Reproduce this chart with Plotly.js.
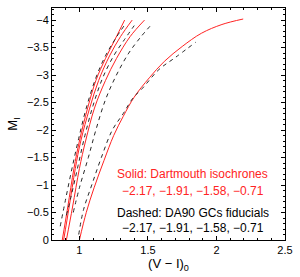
<!DOCTYPE html>
<html>
<head>
<meta charset="utf-8">
<script src="https://cdn.plot.ly/plotly-3.0.1.min.js"></script>
<style>html,body{margin:0;padding:0;background:#fff;}#chart{width:300px;height:277px;}</style>
</head>
<body>
<div id="chart"></div>
<script>
// Dartmouth isochrones (solid red), labelled by [Fe/H]
const isoLabels = ["-2.17", "-1.91", "-1.58", "-0.71"];
const iso1_x = [0.875, 0.915, 0.96, 1.0, 1.06, 1.12, 1.19, 1.26, 1.33];
const iso1_y = [0, -0.6, -1.3, -1.8, -2.4, -2.9, -3.3, -3.65, -4.0];
const iso2_x = [0.885, 0.925, 0.97, 1.01, 1.075, 1.14, 1.22, 1.30, 1.385];
const iso2_y = [0, -0.6, -1.3, -1.8, -2.4, -2.9, -3.35, -3.7, -4.0];
const iso3_x = [0.905, 0.95, 1.0, 1.045, 1.11, 1.19, 1.27, 1.37, 1.475];
const iso3_y = [0, -0.6, -1.3, -1.8, -2.4, -2.9, -3.3, -3.7, -4.0];
const iso4_x = [1.0, 1.05, 1.107, 1.18, 1.25, 1.32, 1.40, 1.51, 1.62, 1.75, 1.89, 2.04, 2.195];
const iso4_y = [0, -0.5, -0.95, -1.45, -1.9, -2.25, -2.6, -2.95, -3.25, -3.52, -3.76, -3.92, -4.02];

// DA90 GC fiducials (dashed)
const fid1_x = [0.86, 0.9, 0.95, 0.995, 1.05, 1.12, 1.19, 1.26, 1.335];
const fid1_y = [-0.25, -0.75, -1.35, -1.85, -2.4, -2.95, -3.35, -3.65, -3.93];
const fid2_x = [0.905, 0.94, 0.99, 1.04, 1.10, 1.17, 1.25, 1.33, 1.40];
const fid2_y = [-0.45, -0.8, -1.35, -1.9, -2.45, -2.95, -3.35, -3.65, -3.9];
const fid3_x = [0.955, 1.0, 1.065, 1.12, 1.19, 1.27, 1.36, 1.45, 1.53];
const fid3_y = [-0.5, -0.95, -1.5, -2.0, -2.55, -3.0, -3.4, -3.7, -3.93];
const fid4_x = [0.995, 1.03, 1.09, 1.16, 1.24, 1.32, 1.39, 1.46, 1.58, 1.70, 1.85];
const fid4_y = [-0.1, -0.55, -1.0, -1.5, -2.0, -2.3, -2.58, -2.76, -3.1, -3.32, -3.6];

const RED = "rgb(255,35,35)";
const GREY = "rgb(40,40,40)";
const FONT = "Liberation Sans, Arial, sans-serif";

function isoTrace(x, y) {
  return {x: x, y: y, mode: "lines", type: "scatter", line: {color: RED, width: 1, shape: "spline"}, hoverinfo: "skip"};
}
function fidTrace(x, y) {
  return {x: x, y: y, mode: "lines", type: "scatter", line: {color: GREY, width: 1, dash: "4px,4px", shape: "spline"}, hoverinfo: "skip"};
}

const traces = [
  isoTrace(iso1_x, iso1_y), isoTrace(iso2_x, iso2_y), isoTrace(iso3_x, iso3_y), isoTrace(iso4_x, iso4_y),
  fidTrace(fid1_x, fid1_y), fidTrace(fid2_x, fid2_y), fidTrace(fid3_x, fid3_y), fidTrace(fid4_x, fid4_y)
];

const labelLine = isoLabels.map(s => s.replace("-", "\u2212")).join(", ");

const layout = {
  width: 300, height: 277,
  margin: {l: 52, r: 15, t: 8, b: 37},
  paper_bgcolor: "#fff", plot_bgcolor: "#fff",
  showlegend: false,
  font: {family: FONT, size: 11, color: "#000"},
  xaxis: {
    range: [0.8, 2.5], tickvals: [1, 1.5, 2, 2.5], ticktext: ["1", "1.5", "2", "2.5"],
    ticks: "inside", ticklen: 4, tickwidth: 1, tickcolor: "#000",
    showline: true, linecolor: "#000", linewidth: 1, mirror: "allticks",
    showgrid: false, zeroline: false,
    minor: {dtick: 0.1, tick0: 0, ticks: "inside", ticklen: 2, tickcolor: "#000", showgrid: false},
    tickfont: {size: 11, family: FONT},
    title: {text: "(V \u2212 I)<sub>0</sub>", font: {size: 13, family: FONT}, standoff: 2}
  },
  yaxis: {
    range: [0, -4.22], tickvals: [0, -0.5, -1, -1.5, -2, -2.5, -3, -3.5, -4],
    ticks: "inside", ticklen: 4, tickwidth: 1, tickcolor: "#000",
    showline: true, linecolor: "#000", linewidth: 1, mirror: "allticks",
    showgrid: false, zeroline: false,
    minor: {dtick: 0.1, tick0: 0, ticks: "inside", ticklen: 2, tickcolor: "#000", showgrid: false},
    tickfont: {size: 11, family: FONT},
    title: {text: "M<sub>I</sub>", font: {size: 13, family: FONT}, standoff: 6}
  },
  annotations: [
    {x: 1.256, y: -1.2, xref: "x", yref: "y", xanchor: "left", yanchor: "middle", showarrow: false,
     text: "Solid: Dartmouth isochrones", font: {size: 12, color: RED, family: FONT}},
    {x: 1.298, y: -0.9, xref: "x", yref: "y", xanchor: "left", yanchor: "middle", showarrow: false,
     text: labelLine, font: {size: 12, color: RED, family: FONT}},
    {x: 1.256, y: -0.5, xref: "x", yref: "y", xanchor: "left", yanchor: "middle", showarrow: false,
     text: "Dashed: DA90 GCs fiducials", font: {size: 12, color: "#000", family: FONT}},
    {x: 1.298, y: -0.215, xref: "x", yref: "y", xanchor: "left", yanchor: "middle", showarrow: false,
     text: labelLine, font: {size: 12, color: "#000", family: FONT}}
  ]
};

Plotly.newPlot("chart", traces, layout, {staticPlot: true, displayModeBar: false});
</script>
</body>
</html>
